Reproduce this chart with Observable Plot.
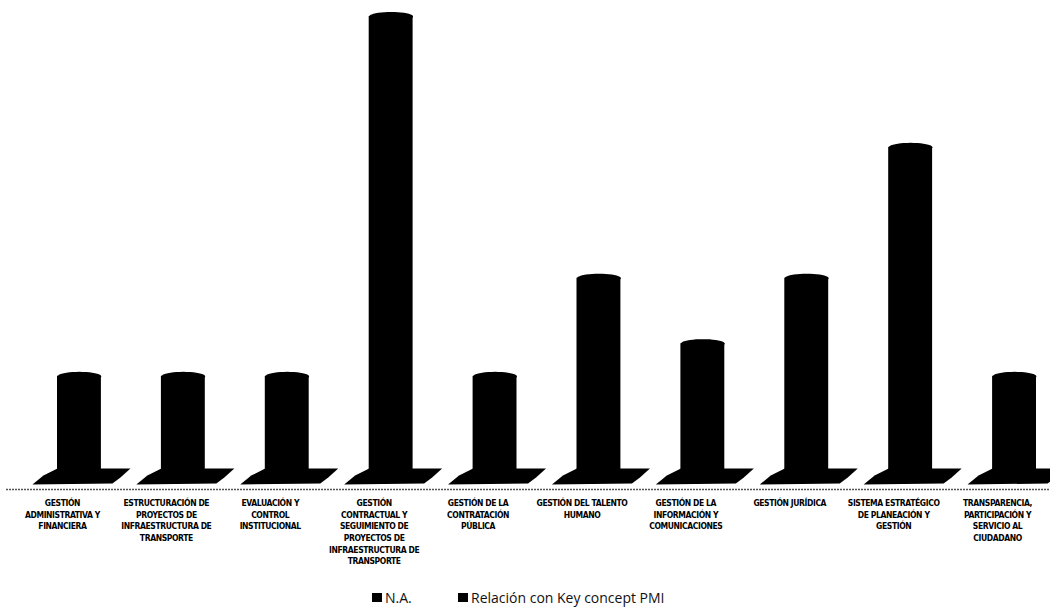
<!DOCTYPE html>
<html>
<head>
<meta charset="utf-8">
<script src="https://cdn.jsdelivr.net/npm/d3@7"></script>
<script src="https://cdn.jsdelivr.net/npm/@observablehq/plot@0.6"></script>
<style>
  html, body { margin: 0; padding: 0; background: #fff; }
  #wrap { width: 1050px; height: 611px; position: relative; overflow: hidden; }
  #chart svg text { letter-spacing: -0.4px; }
  #legend { position: absolute; left: 0; top: 580px; width: 1050px; height: 31px;
            font-family: "Open Sans", "Noto Sans", sans-serif; font-size: 14px; color: #111; }
  .item { position: absolute; top: 8px; display: flex; align-items: center; white-space: nowrap; }
  .sw { width: 10px; height: 9px; background: #000; margin-right: 3px; }
</style>
</head>
<body>
<div id="wrap"><div id="chart"></div><div id="legend"></div></div>
<script>
const categories = [
  "GESTIÓN ADMINISTRATIVA Y FINANCIERA",
  "ESTRUCTURACIÓN DE PROYECTOS DE INFRAESTRUCTURA DE TRANSPORTE",
  "EVALUACIÓN Y CONTROL INSTITUCIONAL",
  "GESTIÓN CONTRACTUAL Y SEGUIMIENTO DE PROYECTOS DE INFRAESTRUCTURA DE TRANSPORTE",
  "GESTIÓN DE LA CONTRATACIÓN PÚBLICA",
  "GESTIÓN DEL TALENTO HUMANO",
  "GESTIÓN DE LA INFORMACIÓN Y COMUNICACIONES",
  "GESTIÓN JURÍDICA",
  "SISTEMA ESTRATÉGICO DE PLANEACIÓN Y GESTIÓN",
  "TRANSPARENCIA, PARTICIPACIÓN Y SERVICIO AL CIUDADANO"
];
const tickLabels = [
  "GESTIÓN\nADMINISTRATIVA Y\nFINANCIERA",
  "ESTRUCTURACIÓN DE\nPROYECTOS DE\nINFRAESTRUCTURA DE\nTRANSPORTE",
  "EVALUACIÓN Y\nCONTROL\nINSTITUCIONAL",
  "GESTIÓN\nCONTRACTUAL Y\nSEGUIMIENTO DE\nPROYECTOS DE\nINFRAESTRUCTURA DE\nTRANSPORTE",
  "GESTIÓN DE LA\nCONTRATACIÓN\nPÚBLICA",
  "GESTIÓN DEL TALENTO\nHUMANO",
  "GESTIÓN DE LA\nINFORMACIÓN Y\nCOMUNICACIONES",
  "GESTIÓN JURÍDICA",
  "SISTEMA ESTRATÉGICO\nDE PLANEACIÓN Y\nGESTIÓN",
  "TRANSPARENCIA,\nPARTICIPACIÓN Y\nSERVICIO AL\nCIUDADANO"
];
const relacionKeyConcept = [3, 3, 3, 14, 3, 6, 4, 6, 10, 3];
const seriesNames = ["N.A.", "Relación con Key concept PMI"];

const data = categories.map((c, i) => ({cat: c, label: tickLabels[i], value: relacionKeyConcept[i]}));

// 3D-ish decorations drawn as custom dot symbols
const floorSymbol = {
  draw(ctx) {
    ctx.moveTo(-47, 10);
    ctx.lineTo(-36, 1);
    ctx.lineTo(-22, -6);
    ctx.lineTo(51, -6);
    ctx.lineTo(41, 3);
    ctx.lineTo(33, 9);
    ctx.closePath();
  }
};
const capSymbol = {
  draw(ctx) {
    const rx = 21.9, ry = 4.5, n = 40;
    for (let k = 0; k <= n; k++) {
      const a = Math.PI * 2 * k / n;
      const px = rx * Math.cos(a), py = ry * Math.sin(a);
      if (k === 0) ctx.moveTo(px, py); else ctx.lineTo(px, py);
    }
    ctx.closePath();
  }
};

const chart = Plot.plot({
  width: 1050,
  height: 580,
  marginLeft: 6,
  marginRight: 0,
  marginTop: 0,
  marginBottom: 0,
  style: {background: "#fff"},
  x: {domain: categories, range: [27, 1066], padding: 0, round: false, axis: null},
  y: {domain: [0, 14], range: [474, 16], axis: null},
  marks: [
    Plot.ruleY([0], {dy: 15, stroke: "#555", strokeDasharray: "2,1", strokeWidth: 1.3}),
    Plot.dot(data, {x: "cat", y: 0, symbol: floorSymbol, r: 10, fill: "#000", stroke: "none"}),
    Plot.barY(data, {x: "cat", y: "value", insetLeft: 30, insetRight: 30, fill: "#000"}),
    Plot.dot(data, {x: "cat", y: "value", symbol: capSymbol, r: 10, fill: "#000", stroke: "none"}),
    Plot.text(data, {
      x: "cat", y: 0, text: "label", dx: -17, dy: 23, lineAnchor: "top",
      fontSize: 8.5, fontWeight: "bold", lineHeight: 1.38, fill: "#000",
      fontFamily: "'Liberation Sans Narrow', 'DejaVu Sans Condensed', sans-serif"
    })
  ]
});
document.getElementById("chart").appendChild(chart);

const legend = document.getElementById("legend");
const lefts = [372, 458];
seriesNames.forEach((name, i) => {
  const it = document.createElement("div");
  it.className = "item";
  it.style.left = lefts[i] + "px";
  it.innerHTML = `<span class="sw"></span><span>${name}</span>`;
  legend.appendChild(it);
});
</script>
</body>
</html>
